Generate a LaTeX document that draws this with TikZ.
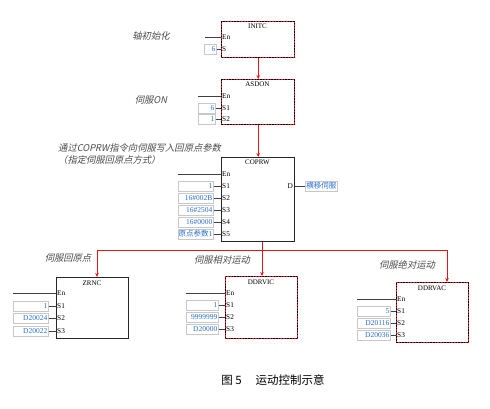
\documentclass[tikz,border=0pt]{standalone}
\usepackage{fontspec}
\setmainfont{Liberation Serif}
\newfontfamily\cjkit[FakeSlant=0.22]{Noto Sans CJK SC}
\newfontfamily\cjk{Noto Sans CJK SC}
\usetikzlibrary{arrows.meta}
\definecolor{valblue}{RGB}{40,110,205}
\definecolor{redln}{RGB}{235,20,20}
\definecolor{lblgray}{RGB}{75,75,75}
\definecolor{boxgray}{RGB}{200,200,200}
\tikzset{
  fbsolid/.style={draw=black!85, line width=1.4pt, minimum width=73pt, anchor=north west, inner sep=0pt},
  fbdash/.style={draw=redln, line width=1.4pt, minimum width=73pt, anchor=north west, inner sep=0pt,
     postaction={draw=black, line width=1.4pt, dash pattern=on 1.4pt off 1.4pt}},
  fbtitle/.style={font=\fontsize{7}{8}\selectfont, inner sep=0pt},
  pinlbl/.style={font=\fontsize{7.3}{8}\selectfont, anchor=west, inner sep=1pt},
  vbox/.style={draw=boxgray, line width=0.6pt, minimum height=10pt, inner sep=1pt,
     font=\fontsize{7.5}{8}\selectfont, text=valblue, anchor=west},
  pinline/.style={draw=black!75, line width=0.7pt},
  redline/.style={draw=redln, line width=0.9pt},
  redarr/.style={draw=redln, line width=0.9pt, -{Stealth[length=4pt,width=3.5pt]}},
  lbl/.style={font=\cjkit\fontsize{9.3}{11}\selectfont, text=lblgray, inner sep=0pt},
}
% #1 name, #2 value left x, #3 inner width, #4 y, #5 value, #6 pin label, #7 block left x
\newcommand\vpin[7]{%
  \node[vbox] (#1v) at (#2,#4) {\makebox[#3pt][r]{#5}};
  \node[pinlbl] (#1p) at (#7,#4) {#6};
  \draw[pinline] (#1v.east) -- (#1p.west);
}
% #1 name, #2 line start x, #3 y, #4 block left x
\newcommand\enpin[4]{%
  \coordinate (#1s) at (#2,#3);
  \node[pinlbl] (#1p) at (#4,#3) {En};
  \draw[pinline] (#1s) -- (#1p.west);
}
\begin{document}
\begin{tikzpicture}[x=1pt,y=-1pt]
\useasboundingbox (0,0) rectangle (490,408);

% ---------- INITC ----------
\node[fbdash, minimum height=36pt] (initc) at (221,21) {};
\node[fbtitle] (initct) at (257.5,26.5) {INITC};
\enpin{initcEn}{205}{37.5}{221}
\vpin{initcS}{204}{10}{49.5}{6}{S}{221}
\node[lbl] (l1) at (151,36) {轴初始化};

% ---------- ASDON ----------
\node[fbdash, minimum height=45pt] (asdon) at (221,79) {};
\node[fbtitle] (asdont) at (257.5,84.5) {ASDON};
\enpin{asdonEn}{198}{96}{221}
\vpin{asdonS1}{198}{15}{108}{6}{S1}{221}
\vpin{asdonS2}{198}{15}{119.5}{1}{S2}{221}
\node[lbl] (l2) at (151,100) {伺服ON};

% ---------- COPRW ----------
\node[fbsolid, minimum height=84pt] (coprw) at (221,157) {};
\node[fbtitle] (coprwt) at (257.5,162.5) {COPRW};
\enpin{coprwEn}{178}{174}{221}
\vpin{coprwS1}{178}{33}{186}{1}{S1}{221}
\vpin{coprwS2}{178}{33}{198}{16\#002B}{S2}{221}
\vpin{coprwS3}{178}{33}{210}{16\#2504}{S3}{221}
\vpin{coprwS4}{178}{33}{222}{16\#0000}{S4}{221}
\vpin{coprwS5}{178}{33}{234}{{\cjk 原点参数}1}{S5}{221}
\node[pinlbl, anchor=east] (coprwD) at (294,186) {D};
\node[vbox] (coprwout) at (305,186) {\cjk 横移伺服};
\draw[pinline] (coprw.east |- coprwD.east) -- (coprwout.west);
\node[lbl, anchor=west] (l3) at (58,148) {通过COPRW指令向伺服写入回原点参数};
\node[lbl, anchor=west] (l4) at (58,159.5) {（指定伺服回原点方式）};

% ---------- ZRNC ----------
\node[fbsolid, minimum height=61pt, minimum width=72pt] (zrnc) at (56,277) {};
\node[fbtitle] (zrnct) at (92,283) {ZRNC};
\enpin{zrncEn}{13}{293.5}{56}
\vpin{zrncS1}{13}{33}{306}{1}{S1}{56}
\vpin{zrncS2}{13}{33}{318.5}{D20024}{S2}{56}
\vpin{zrncS3}{13}{33}{331}{D20022}{S3}{56}
\node[lbl] (l5) at (68,258) {伺服回原点};

% ---------- DDRVIC ----------
\node[fbdash, minimum height=62pt, minimum width=72pt] (ddrvic) at (225,276) {};
\node[fbtitle] (ddrvict) at (261,282) {DDRVIC};
\enpin{ddrvicEn}{186}{293}{225}
\vpin{ddrvicS1}{186}{30}{305}{1}{S1}{225}
\vpin{ddrvicS2}{186}{30}{317}{9999999}{S2}{225}
\vpin{ddrvicS3}{186}{30}{329}{D20000}{S3}{225}
\node[lbl] (l6) at (222,260) {伺服相对运动};

% ---------- DDRVAC ----------
\node[fbdash, minimum height=60pt, minimum width=72pt] (ddrvac) at (396,282) {};
\node[fbtitle] (ddrvact) at (432,288) {DDRVAC};
\enpin{ddrvacEn}{357}{299}{396}
\vpin{ddrvacS1}{357}{31}{311}{5}{S1}{396}
\vpin{ddrvacS2}{357}{31}{323}{D20116}{S2}{396}
\vpin{ddrvacS3}{357}{31}{335}{D20036}{S3}{396}
\node[lbl] (l7) at (407,265) {伺服绝对运动};

% ---------- connectors ----------
\draw[redarr] (initc.south) -- (asdon.north);
\draw[redarr] (asdon.south) -- (coprw.north);
\coordinate (split) at (262,250);
\coordinate (hl) at (97,250);
\coordinate (hr) at (447,250);
\draw[redline] (split |- coprw.south) -- (split);
\draw[redline] (hl) -- (hr);
\draw[redarr] (hl) -- (hl |- zrnc.north);
\draw[redarr] (split) -- (split |- ddrvic.north);
\draw[redarr] (hr) -- (hr |- ddrvac.north);

% ---------- caption ----------
\node[font=\cjk\fontsize{11.5}{13}\selectfont, inner sep=0pt] (cap) at (273,380) {图 5\hspace{1.2em}运动控制示意};
\end{tikzpicture}
\end{document}
